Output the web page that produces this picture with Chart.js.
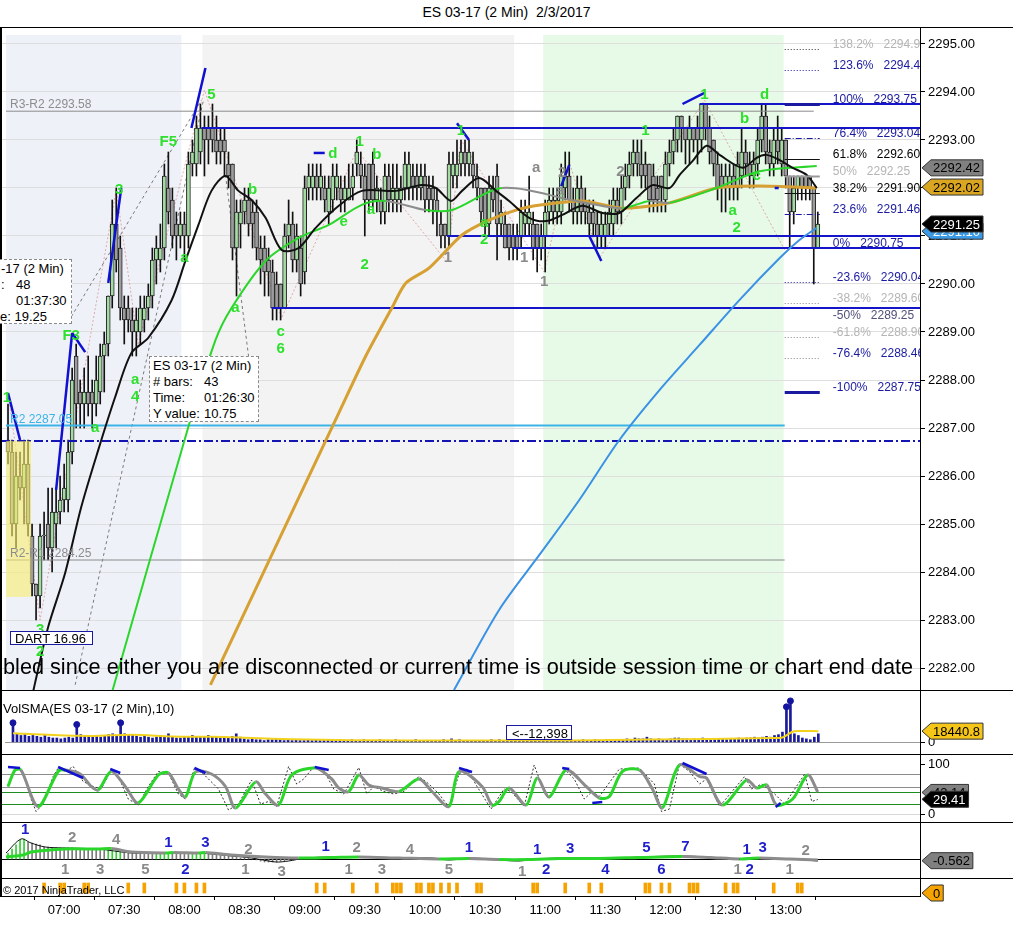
<!DOCTYPE html>
<html>
<head>
<meta charset="utf-8">
<title>ES 03-17 (2 Min) 2/3/2017</title>
<script src="https://cdn.jsdelivr.net/npm/chart.js@4.4.1/dist/chart.umd.min.js"></script>
<style>
  body { margin:0; width:1013px; height:952px; position:relative; overflow:hidden; background:#fff;
         font-family: Arial, "Liberation Sans", sans-serif; }
  canvas { position:absolute; left:0; }
  .ln { position:absolute; background:#000; }
  .txt { position:absolute; white-space:pre; color:#000; }
  .box { position:absolute; background:#fff; border:1px dashed #8a8a8a; font-size:13px; }
</style>
</head>
<body>
<div class="txt" style="left:0;width:1013px;text-align:center;top:4px;font-size:14px;">ES 03-17 (2 Min)  2/3/2017</div>

<canvas id="cMain" width="1013" height="662" style="top:28px"></canvas>
<canvas id="cVol" width="1013" height="64" style="top:690px"></canvas>
<canvas id="cStoch" width="1013" height="68" style="top:754px"></canvas>
<canvas id="cMacd" width="1013" height="56" style="top:822px"></canvas>
<canvas id="cBottom" width="1013" height="74" style="top:878px"></canvas>

<div class="ln" style="left:0;top:27px;width:1013px;height:1px"></div>
<div class="ln" style="left:0;top:27px;width:2px;height:869px"></div>
<div class="ln" style="left:0;top:690px;width:1013px;height:1px"></div>
<div class="ln" style="left:0;top:754px;width:1013px;height:1px"></div>
<div class="ln" style="left:0;top:822px;width:1013px;height:1px"></div>
<div class="ln" style="left:0;top:878px;width:1013px;height:1px"></div>
<div class="ln" style="left:920px;top:27px;width:1px;height:869px"></div>

<div class="box" style="left:-1px;top:259px;width:71px;height:63px;">
  <div class="txt" style="left:1px;top:1px">-17 (2 Min)</div>
  <div class="txt" style="left:1px;top:17px">:</div><div class="txt" style="left:16px;top:17px">48</div>
  <div class="txt" style="left:16px;top:33px">01:37:30</div>
  <div class="txt" style="left:0px;top:49px">e: 19.25</div>
</div>
<div class="box" style="left:149px;top:356px;width:108px;height:64px;">
  <div class="txt" style="left:3px;top:1px">ES 03-17 (2 Min)</div>
  <div class="txt" style="left:3px;top:17px"># bars:</div><div class="txt" style="left:54px;top:17px">43</div>
  <div class="txt" style="left:3px;top:33px">Time:</div><div class="txt" style="left:54px;top:33px">01:26:30</div>
  <div class="txt" style="left:3px;top:49px">Y value:</div><div class="txt" style="left:54px;top:49px">10.75</div>
</div>
<div class="txt" style="left:10px;top:631px;height:14px;border:1px solid #1a1aa0;background:#fff;font-size:13px;line-height:14px;padding-left:4px;box-sizing:border-box;width:83px;">DART 16.96</div>
<div class="txt" style="left:3px;top:654px;font-size:21.7px;">bled since either you are disconnected or current time is outside session time or chart end date</div>

<div class="txt" style="left:3px;top:701px;font-size:13px;">VolSMA(ES 03-17 (2 Min),10)</div>
<div class="txt" style="left:506px;top:725px;width:66px;height:15px;border:1px solid #1a1aa0;background:#fff;font-size:13px;line-height:15px;box-sizing:border-box;padding-left:5px;">&lt;--12,398</div>
<div class="txt" style="left:3px;top:884px;font-size:11px;">© 2017 NinjaTrader, LLC</div>

<script>
// ---- bars: ES 03-17, 2 min, first bar 06:32 ----
const opens = [
  2286.75,2286.5,2285.0,2286.0,2285.75,2286.25,2284.75,2283.75,2283.5,2284.75,
  2285.0,2284.5,2285.0,2285.25,2285.5,2285.5,2286.5,2288.5,2287.75,2287.5,
  2287.75,2287.75,2287.5,2287.75,2288.5,2288.75,2289.75,2291.25,2290.75,2289.5,
  2289.5,2289.25,2289.0,2289.0,2289.25,2289.5,2289.75,2290.5,2290.5,2290.75,
  2292.0,2291.75,2291.25,2291.0,2291.25,2291.0,2292.5,2292.5,2292.75,2293.25,
  2293.25,2293.25,2293.0,2293.0,2293.0,2292.5,2292.5,2290.75,2291.25,2291.5,
  2291.75,2291.5,2291.5,2290.75,2290.75,2290.5,2290.25,2290.0,2290.0,2289.5,
  2291.0,2291.25,2290.5,2290.75,2290.25,2292.0,2292.0,2292.25,2292.0,2292.0,
  2291.5,2291.75,2292.0,2292.0,2291.75,2291.75,2292.0,2292.5,2292.5,2292.25,
  2292.5,2292.5,2291.75,2291.75,2291.5,2292.25,2291.75,2291.75,2291.75,2292.0,
  2292.0,2292.25,2292.25,2292.0,2292.25,2292.0,2292.0,2291.75,2291.25,2291.25,
  2291.0,2292.25,2292.25,2292.5,2292.75,2292.5,2292.5,2292.25,2292.0,2292.0,
  2291.25,2292.0,2292.25,2291.25,2291.25,2291.25,2291.0,2291.0,2291.0,2291.25,
  2291.25,2291.25,2291.25,2290.75,2291.0,2291.5,2291.75,2291.5,2291.5,2292.0,
  2292.25,2291.75,2291.5,2292.0,2291.75,2291.5,2291.5,2291.25,2291.0,2291.0,
  2291.25,2291.25,2291.75,2291.5,2292.0,2292.25,2292.5,2292.75,2292.5,2292.5,
  2292.5,2292.25,2292.0,2292.25,2291.75,2292.5,2292.75,2293.0,2293.5,2293.25,
  2293.0,2293.25,2293.25,2293.0,2293.75,2293.25,2293.0,2292.5,2292.25,2292.0,
  2292.0,2292.25,2292.0,2292.25,2292.75,2292.5,2292.25,2292.5,2293.0,2293.5,
  2292.75,2292.5,2293.0,2292.5,2293.0,2292.25,2291.5,2292.0,2292.25,2292.25,
  2292.25,2292.0,2290.75];
const highs = [
  2287.5,2286.75,2286.5,2286.5,2286.75,2286.75,2285.0,2283.75,2285.0,2285.25,
  2285.75,2285.75,2285.75,2286.0,2286.25,2286.75,2288.25,2288.75,2288.0,2288.25,
  2288.5,2288.0,2288.5,2288.75,2289.0,2289.75,2291.75,2292.0,2291.0,2289.75,
  2289.75,2289.5,2289.5,2289.75,2289.75,2290.0,2290.75,2291.0,2291.25,2292.5,
  2292.75,2292.0,2291.5,2291.5,2291.5,2292.75,2293.0,2293.5,2293.75,2293.5,
  2293.5,2293.75,2293.5,2293.25,2293.25,2292.75,2292.5,2291.75,2291.75,2292.0,
  2292.0,2291.75,2291.75,2291.0,2291.0,2290.75,2290.5,2290.25,2290.0,2291.25,
  2291.75,2291.5,2291.25,2291.0,2292.25,2292.5,2292.5,2292.5,2292.5,2292.25,
  2292.25,2292.5,2292.5,2292.25,2292.25,2292.5,2292.5,2293.0,2292.75,2292.5,
  2292.5,2292.75,2292.25,2292.0,2292.5,2292.5,2292.5,2292.5,2292.25,2292.75,
  2292.75,2292.5,2292.5,2292.5,2292.5,2292.25,2292.25,2292.0,2291.5,2291.25,
  2292.75,2292.75,2293.0,2293.0,2293.0,2293.0,2292.75,2292.5,2292.0,2292.0,
  2292.25,2292.25,2292.5,2291.75,2291.5,2291.25,2291.25,2291.25,2291.75,2291.75,
  2292.25,2291.5,2291.25,2291.25,2291.75,2292.0,2292.0,2292.0,2292.5,2292.75,
  2292.75,2292.0,2292.25,2292.25,2292.0,2291.75,2291.75,2291.5,2291.5,2291.5,
  2291.75,2292.0,2292.0,2292.25,2292.5,2292.75,2293.0,2293.0,2293.0,2292.75,
  2292.5,2292.5,2292.25,2292.25,2292.75,2293.0,2293.25,2293.5,2293.5,2293.25,
  2293.5,2293.25,2293.5,2293.75,2293.75,2293.5,2293.0,2292.75,2292.5,2292.5,
  2292.5,2292.5,2292.75,2293.25,2293.0,2292.75,2292.75,2293.25,2293.75,2293.75,
  2293.0,2293.25,2293.5,2293.25,2293.0,2292.25,2292.25,2292.25,2292.25,2292.25,
  2292.25,2292.0,2291.5];
const lows = [
  2286.25,2284.75,2284.5,2285.5,2285.0,2284.75,2283.5,2283.0,2283.25,2284.25,
  2284.25,2284.0,2284.5,2285.0,2285.25,2285.25,2286.25,2287.0,2287.0,2287.0,
  2287.25,2287.0,2287.25,2287.5,2287.75,2288.5,2289.5,2290.25,2289.25,2288.75,
  2289.0,2288.5,2288.5,2288.75,2289.0,2289.25,2289.5,2290.0,2290.25,2290.5,
  2291.25,2290.75,2290.5,2290.75,2290.5,2290.75,2292.25,2292.25,2292.5,2292.25,
  2292.5,2292.75,2292.5,2292.5,2292.25,2292.0,2290.5,2289.75,2290.75,2291.25,
  2291.0,2290.75,2290.5,2290.0,2289.75,2289.75,2289.25,2289.25,2289.25,2289.5,
  2290.75,2290.25,2290.25,2289.75,2290.0,2291.75,2291.75,2291.75,2291.75,2291.5,
  2291.25,2291.5,2291.75,2291.5,2291.5,2291.75,2291.75,2292.25,2292.0,2291.0,
  2291.5,2291.5,2291.5,2291.25,2291.25,2291.5,2291.5,2291.5,2291.5,2291.75,
  2291.75,2291.75,2291.75,2291.75,2291.5,2291.5,2291.25,2291.0,2290.75,2290.75,
  2290.75,2292.0,2292.0,2292.25,2292.25,2292.25,2292.0,2291.75,2291.25,2291.0,
  2291.0,2291.5,2290.5,2291.0,2290.75,2290.5,2290.5,2290.5,2290.75,2291.0,
  2291.0,2290.5,2290.25,2290.5,2290.25,2291.25,2291.25,2291.25,2291.25,2291.75,
  2291.5,2291.25,2291.25,2291.25,2291.25,2291.0,2291.0,2290.75,2290.75,2290.75,
  2291.0,2291.0,2291.25,2291.25,2291.75,2292.0,2292.25,2292.25,2292.0,2292.0,
  2291.5,2291.5,2291.5,2291.5,2291.5,2292.25,2292.5,2292.75,2292.75,2292.5,
  2292.5,2292.75,2292.5,2292.75,2293.0,2292.5,2292.25,2291.75,2291.5,2291.5,
  2291.75,2291.75,2291.75,2292.0,2292.25,2292.0,2292.0,2292.25,2292.75,2292.5,
  2292.25,2292.25,2292.5,2292.25,2292.0,2290.75,2291.25,2291.75,2291.75,2291.75,
  2291.75,2290.0,2290.75];
const closes = [
  2286.5,2285.0,2286.0,2285.75,2286.25,2285.0,2283.75,2283.5,2284.75,2284.75,
  2284.5,2285.25,2285.25,2285.5,2285.75,2286.5,2288.0,2287.5,2287.5,2287.75,
  2287.5,2287.5,2288.0,2288.5,2288.75,2289.75,2291.25,2290.5,2289.5,2289.25,
  2289.25,2289.0,2289.25,2289.5,2289.5,2289.75,2290.5,2290.75,2290.75,2292.25,
  2291.5,2291.0,2291.0,2291.25,2291.0,2292.5,2292.75,2293.25,2293.25,2293.0,
  2293.0,2293.0,2292.75,2292.75,2292.75,2292.25,2290.75,2291.5,2291.5,2291.75,
  2291.25,2291.25,2290.75,2290.5,2290.25,2290.25,2289.5,2289.5,2289.5,2291.0,
  2291.25,2290.5,2291.0,2290.0,2292.0,2292.25,2292.25,2292.0,2292.25,2291.75,
  2292.0,2292.25,2292.25,2291.75,2292.0,2292.0,2292.25,2292.75,2292.25,2291.75,
  2291.75,2291.75,2292.0,2291.5,2292.25,2291.75,2292.0,2292.0,2292.0,2292.5,
  2292.5,2292.0,2292.0,2292.25,2291.75,2291.75,2291.75,2291.5,2291.0,2291.0,
  2292.5,2292.5,2292.5,2292.75,2292.5,2292.75,2292.25,2292.0,2291.5,2291.25,
  2292.0,2291.75,2291.25,2291.5,2290.75,2290.75,2290.75,2290.75,2291.5,2291.5,
  2291.5,2290.75,2290.75,2291.0,2291.5,2291.75,2291.5,2291.75,2292.25,2292.25,
  2291.75,2291.5,2292.0,2291.5,2291.5,2291.25,2291.25,2291.0,2291.25,2291.25,
  2291.5,2291.75,2291.5,2292.0,2292.25,2292.5,2292.75,2292.5,2292.25,2292.25,
  2291.75,2291.75,2291.75,2292.0,2292.5,2292.75,2293.0,2293.5,2293.25,2293.0,
  2293.25,2293.0,2293.0,2293.75,2293.25,2292.75,2292.5,2292.0,2292.0,2292.25,
  2292.25,2292.0,2292.5,2292.75,2292.5,2292.25,2292.5,2293.0,2293.5,2292.75,
  2292.5,2293.0,2292.75,2293.0,2292.25,2291.5,2292.0,2292.25,2292.0,2292.0,
  2292.0,2290.75,2291.25];

// time axis (bar index of each label)
const timeTickIdx = [14, 29, 44, 59, 74, 89, 104, 119, 134, 149, 164, 179, 194];
const timeTickLabels = ['07:00','07:30','08:00','08:30','09:00','09:30','10:00','10:30','11:00','11:30','12:00','12:30','13:00'];
const priceTicks = [2282,2283,2284,2285,2286,2287,2288,2289,2290,2291,2292,2293,2294,2295];

// moving averages (bar index, price)
const emaFastIdx = [5.75,6.75,10,14.25,18.25,22.5,26.75,30.75,35,40.75,44.25,47.5,50.75,54.25,57.5,60.75,64.25,68.25,72.5,76.75,82.5,88.25,96.75,103.25,106.75,110.5,113.25,117.5,121.75,125,130,134.25,138.25,143.25,148.25,152.5,156.75,160.75,165,167.5,170.75,174.25,177.5,183.25,186.75,189.25,192.5,195.75,199.25,201.75];
const emaFastVal = [2281.3,2281.69,2282.85,2283.98,2285.35,2286.54,2287.65,2288.56,2288.88,2289.65,2290.48,2291.23,2291.94,2292.25,2291.94,2291.75,2291.38,2290.71,2290.75,2291.17,2291.63,2291.94,2291.94,2292.06,2292.0,2291.73,2291.94,2292.21,2291.94,2291.73,2291.38,2291.31,2291.44,2291.63,2291.48,2291.48,2291.79,2292.06,2292.0,2292.27,2292.56,2292.88,2292.69,2292.42,2292.63,2292.69,2292.58,2292.42,2292.27,2292.0];
const emaMidIdx = [25.75,45.5,51.75,55.75,64.25,72.5,80,88.25,94.25,104.25,110.75,123.25,141.75,153.25,160,165,176.75,187.5,201.75];
const emaMidVal = [2281.44,2287.17,2288.83,2289.5,2290.48,2290.96,2291.23,2291.65,2291.73,2291.54,2291.54,2292.0,2291.73,2291.58,2291.73,2291.69,2292.0,2292.35,2292.46];
const emaSlowIdx = [50.5,82.5,89.25,95.75,99.25,105,113.25,120,126.75,133.25,143.25,153.25,165,176.75,187.5,201.75];
const emaSlowVal = [2281.65,2287.31,2288.5,2289.5,2290.02,2290.33,2291.02,2291.33,2291.54,2291.65,2291.73,2291.58,2291.69,2292.0,2292.04,2292.0];
const emaLongIdx = [111.25,122.5,132.5,142.5,152.5,162.5,172.5,182.5,192.5,197.5,201.75];
const emaLongVal = [2281.54,2283.21,2284.35,2285.5,2286.75,2287.79,2288.73,2289.67,2290.54,2290.92,2291.17];

// horizontal levels
const hLinePrice = [2293.25, 2293.75, 2291.0, 2290.75, 2289.5, 2293.6, 2287.05, 2286.73, 2284.25];
const hLineFrom  = [48.25, 172.5, 109.5, 125.75, 65.75, -0.5, -0.5, -2, -0.5];
const hLineTo    = [227.5, 227.5, 227.5, 227.5, 227.5, 201, 193.75, 227.5, 193.75];
const hLineColor = ['#1414c8','#1414c8','#1414c8','#1414c8','#1414c8','#8c8c8c','#3cb4e6','#1414b4','#8c8c8c'];
const hLineWidth = [2, 2, 2, 2, 2, 1, 2, 2, 1];
const hLineDash  = [[], [], [], [], [], [], [], [9, 3, 2, 3], []];
const rLabelText  = ['R3-R2 2293.58', 'R2 2287.05', 'R2-R1 2284.25'];
const rLabelPrice = [2293.6, 2287.05, 2284.25];
const rLabelColor = ['#8c8c8c', '#3cb4e6', '#8c8c8c'];

// fibonacci levels at the right edge
const fibPct   = ['138.2%','123.6%','100%','76.4%','61.8%','50%','38.2%','23.6%','0%','-23.6%','-38.2%','-50%','-61.8%','-76.4%','-100%'];
const fibPrice = [2294.90,2294.46,2293.75,2293.04,2292.60,2292.25,2291.90,2291.46,2290.75,2290.04,2289.60,2289.25,2288.90,2288.46,2287.75];
const fibColor = ['#b4b4b4','#1a1aa0','#1a1aa0','#1a1aa0','#000000','#b4b4b4','#000000','#1a1aa0','#1a1aa0','#1a1aa0','#b4b4b4','#50507a','#b4b4b4','#1a1aa0','#1a1aa0'];
const fibLineColor = ['#333','#1a1aa0','#1a1aa0','#1a1aa0','#111','#999','#111','#1a1aa0',null,'#1a1aa0','#888',null,'#888','#888','#1a1aa0'];
const fibLineWidth = [1, 1, 3, 1, 1, 2, 1, 1, 0, 1, 1, 0, 1, 1, 3];
const fibLineDash  = [[1,2],[1,2],[],[6,2,1,2],[],[],[],[6,2,1,2],[],[1,2],[1,2],[],[1,2],[1,2],[]];

// drawn swing lines
const slants = [[0,2287.73,3,2286.75],[12,2285.71,16,2288.98],[16,2288.98,19.25,2288.58],[25,2290.02,28.25,2292.0],
  [45.75,2293.25,49.25,2294.5],[76.25,2292.73,79,2292.73],[112,2293.35,115,2293.0],[138,2292.04,140,2292.48],
  [145,2291.0,148,2290.48],[168.25,2293.75,173.75,2293.98],[191.25,2292.0,192.25,2292.0]];
const zzIdx = [0,8,27,32.5,49,68.25,87,109.5,113,133.75,140,147.5,173.75,193.75];
const zzVal = [2287.73,2283.0,2291.96,2288.73,2294.04,2289.29,2292.79,2290.46,2293.0,2290.25,2292.54,2290.54,2293.83,2290.71];
const dashLines = [[15,2289.21,48.25,2293.83],[16.75,2281.65,48.75,2293.83],[54.25,2292.27,60,2288.5]];

// session shading and the yellow range box
const sessionStart = [-0.5, 48.5, 133.5];
const sessionEnd   = [43.25, 126.25, 193.5];
const sessionColor = ['#eff1f9', '#f3f3f3', '#e7f9e7'];
const rangeBox = [-0.5, 5.75, 2283.48, 2286.73];

// swing labels on the price panel
const lblIdx = [-0.25,15.75,21.75,27.75,31.75,31.75,44,40,50.75,61,56.75,68,68,81,87.75,92,83.75,90.5,89,118.75,118.75,113,159,173.75,188.75,183.75,186.75,180.75,181.75,8,8,109.75,128.75,133.75,131.75,138.25,137.75,152.75];
const lblVal = [2287.63,2288.92,2287.0,2291.96,2288.0,2287.65,2290.54,2292.96,2293.94,2291.96,2289.5,2289.0,2288.65,2292.71,2292.96,2292.69,2291.29,2291.54,2290.4,2291.27,2290.92,2293.19,2293.19,2293.94,2293.94,2293.44,2292.25,2291.52,2291.17,2282.79,2282.33,2290.54,2290.54,2290.04,2292.42,2292.31,2291.94,2292.33];
const lblText = ['1','F3','a','3','a','4','a','F5','5','b','a','c','6','d','1','b','e','a','2','a','2','1','1','1','d','b','c','a','2','3','2','1','1','1','a','2','a','2'];
const lblGray = 31; // labels from this position on are gray

// price tags on the axis
const mainTagVal = [2291.10, 2292.42, 2292.02, 2291.25];
const mainTagBg  = ['#3c9be6', '#808080', '#daa520', '#000000'];
const mainTagFg  = ['#ffffff', '#000000', '#000000', '#ffffff'];

// volume
const volume = [
  32200,14000,11200,12600,9800,12600,9800,8400,11200,8400,
  7000,7000,5600,7000,8400,7000,29400,12600,11200,9800,
  9800,11200,8400,11200,12600,14000,11200,32200,14000,12600,
  11200,9800,8400,9800,8400,7000,8400,11200,9800,14000,
  9800,7000,7000,8400,9800,11200,8400,9800,8400,11200,
  9800,8400,7000,8400,7000,9800,14000,8400,5600,4200,
  5600,4200,4200,2800,4200,4200,5600,4200,2800,4200,
  2800,4200,2800,2800,4200,2800,4200,2800,2800,4200,
  2800,2800,4200,2800,2800,4200,2800,2800,4200,2800,
  2800,2800,4200,2800,2800,2800,4200,2800,2800,2800,
  2800,4200,2800,2800,2800,2800,2800,2800,4200,2800,
  5600,2800,4200,2800,2800,2800,2800,2800,2800,2800,
  4200,2800,4200,2800,2800,2800,2800,2800,2800,2800,
  2800,2800,2800,2800,2800,4200,2800,2800,4200,2800,
  4200,2800,2800,4200,2800,2800,4200,2800,2800,4200,
  2800,2800,4200,4200,5600,4200,7000,5600,5600,8400,
  5600,4200,5600,4200,4200,5600,7000,7000,5600,5600,
  4200,5600,4200,7000,5600,5600,4200,5600,5600,4200,
  5600,5600,7000,5600,7000,7000,8400,7000,8400,9800,
  8400,11200,12600,16800,58800,68600,14000,11200,7000,5600,
  4200,8400,14000];
const volSpikeIdx = [0, 16, 27, 194, 195];
const volSmaIdx = [0,10,20,30,40,50,60,70,85,100,120,140,160,175,190,193,195.5,197,202];
const volSmaVal = [15000,12000,10500,12500,9500,9000,7000,5000,3500,3000,2800,3000,4500,5500,7000,8000,17500,18800,18440];

// stochastics
const stochIdx = [0,1.75,3.25,7.5,12.5,14.25,18,20.75,22.5,25.75,29.25,32.5,37.5,40,42.5,44.25,46.75,50.75,54.25,56.75,61.75,64.25,67.5,70.75,76.75,80.75,82.5,85,87.5,90,93.25,97.5,102.5,105.75,110,112.5,118.25,120.75,122.5,125,129.25,132,135,139.25,144.25,147.5,150,153.25,157.5,160.75,163.25,167.5,172.5,174.25,178.25,184.25,186.75,189.25,191.75,195.75,199.5,202];
const stochVal = [55,88,88,15,85,88,80,55,48,85,55,22,78,82,50,34,84,80,55,12,64,40,18,78,92,70,52,45,78,58,52,45,70,45,15,85,55,18,25,52,18,72,34,88,55,32,35,85,88,50,12,98,75,72,18,68,52,58,18,30,78,44];
const rawIdx = [0,1.75,3.75,5.75,7,8.75,11.25,12.5,14.25,16.25,18.75,21.25,23.25,25.75,27.5,30,32.5,35,37.5,40,42.5,44.25,46.5,48.75,52.5,55,57.5,60.75,63,65,67,70,72,73.75,76.25,78.75,81.25,83.75,87.5,89.5,91.25,93.75,96.25,98.75,102.5,105,107.5,110,112.5,114.5,117,120.5,123.75,125.5,128.75,131.25,133,135,138.75,141.25,143.75,145.75,147.5,152.5,157.5,161.25,163,165,167.5,170,172.5,174.25,177.5,183.75,185.5,188,191.25,193.75,198.75,200.5,202];
const rawVal = [55,90,85,30,5,20,75,92,85,95,65,55,50,88,75,30,18,55,85,82,40,30,92,80,50,8,20,68,20,25,15,95,60,70,94,88,50,40,93,40,55,45,40,45,75,60,40,14,80,90,55,10,50,45,15,98,60,30,90,70,30,45,35,90,92,60,5,10,100,85,60,70,15,75,50,60,40,20,80,25,29];
const stochLevels = [80, 55, 45, 20, 0];
const stochLevelColor = ['#8c8c8c', '#8c8c8c', '#1e8c1e', '#1e8c1e', '#d8d8d8'];
const stochDivs = [[0,94,3,92],[12.5,94,18.75,72],[25.5,90,28,82],[46.5,92,49.25,82],[76.5,94,80,88],[112.5,92,115.75,84],[138.25,92,140,90],[145.75,22,148.25,24],[168.25,102,174.25,80],[191.5,14,192.75,22]];

// momentum panel
const histVal = [2.0,3.3,4.7,6.3,6.7,5.7,5.3,5.0,4.7,4.0,4.0,3.8,3.8,3.7,3.7,3.7,3.7,3.5,3.5,3.5,3.3,3.3,3.3,3.3,3.0,3.0,3.0,3.0,2.7,2.3,2.0,2.0,2.0,2.0,2.0,2.0,2.0,2.0,2.0,2.0,2.0,2.0,2.0,2.0,2.0,2.0,2.0,2.0,2.0,1.7,1.7,1.3,1.3,1.0,1.0,1.0,0.7,0.7,0.3,0.3,0.3,0,-0.3,-0.7,-1.0,-1.0,-1.0,-1.0,-0.7,-0.7,-0.3];
const histGreenRanges = [[0, 4], [25, 28], [37, 40], [46, 49]];
const macdIdx = [-0.5,3.25,5.75,9.25,14.25,22.5,30.75,39.25,47.5,55.75,60.75,66.75,70,74.25,80.75,89.25,97.5,105.75,110,115.75,122.5,127.5,131.75,139.25,147.5,157.5,168.25,174.25,180.75,185.75,195,202];
const macdVal = [2.0,6.67,5.33,4.0,3.67,3.33,2.0,2.0,2.0,1.0,0.33,-1.0,-0.67,0.33,0.67,0.67,0.33,0.33,-0.33,0.33,-0.33,-0.67,0,0.33,0,0.67,1.0,0.67,0,0.33,0,-0.67];
const sigIdx = [-0.5,3.75,5.75,14.25,22.5,25.75,30.75,39.25,41.25,47.5,49.25,55.75,64.25,72.5,80.75,87.5,97.5,107.5,115,122.5,130,137.5,147.5,157.5,168.25,175,182.5,187.5,195,202];
const sigVal = [0.67,1.33,2.33,3.33,3.33,3.5,2.33,2.0,2.17,2.0,2.17,1.33,0.67,0.33,0.5,0.67,0.33,0,0.17,-0.17,-0.17,0.17,0.17,0.5,0.83,0.5,0,0.33,0,-0.33];
const mLblIdx = [4.25,16,27,40,49.25,60,79.25,87,100.25,115,132,140.25,159.25,169,184.25,188.25,199,
  14.25,23,34.25,44.25,59.25,68.25,85,93.25,110,128.25,134.25,149,163,182,185,195];
const mLblVal = [9.67,7,6.33,5.33,5.33,3,4,3.67,3,3.67,3,3.33,3.67,4,3,3.67,2.67,
  -3.67,-3.67,-3.67,-3.67,-3.67,-4.33,-3.67,-3.67,-3.67,-4.33,-3.67,-3.67,-3.67,-3.67,-3.67,-3.67];
const mLblText = ['1','2','4','1','3','2','1','2','4','1','1','3','5','7','1','3','2',
  '1','3','5','2','1','3','1','3','5','1','2','4','6','1','2','1'];
const mLblBlue = [1,0,0,1,1,0,1,0,0,1,1,1,1,1,1,1,0, 0,0,0,1,0,0,0,0,0,0,1,1,1,0,1,0];

// order-flow markers row
const markIdx = [9,13,14,19,20,30,34,42,44,47,49,77,79,86,92,96,97,98,102,103,105,106,108,110,112,117,118,131,132,139,145,148,159,160,163,165,170,171,172,179,181,182,191,197,198];

const FONT = 'Arial, "Liberation Sans", sans-serif';
const X_MIN = -2, X_MAX = 227.5, AXIS_W = 93;
const GREEN = '#2ee02e', GRAY_LBL = '#8a8a8a', BLUE_LBL = '#1e1ecc';
Chart.defaults.font.family = FONT;

function xAxis(show) {
  return {
    type: 'linear', min: X_MIN, max: X_MAX, offset: false, display: show,
    afterFit: s => { if (show) s.height = 56; s.paddingLeft = 0; s.paddingRight = 0; },
    afterBuildTicks: s => { s.ticks = timeTickIdx.map(v => ({ value: v })); },
    border: { display: true, color: '#000' },
    grid: { drawOnChartArea: false, tickColor: '#000', tickLength: 4 },
    ticks: { autoSkip: false, maxRotation: 0, color: '#000', font: { size: 13 }, padding: 3,
             callback: v => timeTickLabels[timeTickIdx.indexOf(v)] }
  };
}
function yAxis(min, max, tickVals, fmt, gridColor) {
  return {
    position: 'right', min: min, max: max,
    afterFit: s => { s.width = AXIS_W; s.paddingTop = 0; s.paddingBottom = 0; },
    afterBuildTicks: s => { s.ticks = tickVals.map(v => ({ value: v })); },
    border: { display: true, color: '#000', width: 1 },
    grid: { drawOnChartArea: !!gridColor, color: gridColor || '#000', tickColor: '#000', tickLength: 5 },
    ticks: { display: tickVals.length > 0, color: '#000', font: { size: 13 }, padding: 3, callback: v => fmt(v) }
  };
}
function baseOpts(yCfg, showX) {
  return {
    responsive: false, animation: false, events: [],
    layout: { padding: 0 },
    plugins: { legend: { display: false }, tooltip: { enabled: false } },
    elements: { point: { radius: 0 } },
    scales: { x: xAxis(showX), y: yCfg }
  };
}
function lineDs(idx, val, color, width, extra) {
  return Object.assign({ type: 'line', data: idx.map((x, k) => ({ x: x, y: val[k] })),
    borderColor: color, borderWidth: width, pointRadius: 0, fill: false, tension: 0 }, extra || {});
}
const slopeColor = (up, down) => ({ borderColor: c => c.p1.parsed.y < c.p0.parsed.y ? down : up });

function drawTag(ctx, y, text, bg, fg) {
  ctx.font = '13px ' + FONT;
  const w = ctx.measureText(text).width + 5;
  const x0 = 922;
  ctx.beginPath();
  ctx.moveTo(x0, y);
  ctx.lineTo(x0 + 9, y - 8);
  ctx.lineTo(x0 + 9 + w, y - 8);
  ctx.lineTo(x0 + 9 + w, y + 8);
  ctx.lineTo(x0 + 9, y + 8);
  ctx.closePath();
  ctx.fillStyle = bg; ctx.fill();
  ctx.strokeStyle = '#333'; ctx.lineWidth = 1; ctx.stroke();
  ctx.fillStyle = fg; ctx.textAlign = 'left'; ctx.textBaseline = 'middle';
  ctx.fillText(text, x0 + 11, y + 1);
}
function tagPlugin(id, vals, texts, bgs, fgs) {
  return { id: id, afterDraw(chart) {
    const ctx = chart.ctx; ctx.save();
    vals.forEach((v, k) => drawTag(ctx, chart.scales.y.getPixelForValue(v), texts[k], bgs[k], fgs[k]));
    ctx.restore();
  } };
}
function clipArea(chart) {
  const a = chart.chartArea;
  chart.ctx.beginPath(); chart.ctx.rect(a.left, a.top, a.right - a.left, a.bottom - a.top); chart.ctx.clip();
}

// ---------- price panel ----------
const mainDecor = {
  id: 'mainDecor',
  beforeDraw(chart) {
    const { ctx, chartArea: a, scales: { x } } = chart;
    ctx.save();
    sessionStart.forEach((s, k) => {
      const x0 = x.getPixelForValue(s), x1 = x.getPixelForValue(sessionEnd[k]);
      ctx.fillStyle = sessionColor[k];
      ctx.fillRect(x0, a.top + 7, x1 - x0, a.bottom - a.top - 7);
    });
    ctx.restore();
  },
  afterDatasetsDraw(chart) {
    const { ctx, scales: { x, y } } = chart;
    ctx.save(); clipArea(chart);
    // yellow range box
    const bx0 = x.getPixelForValue(rangeBox[0]), bx1 = x.getPixelForValue(rangeBox[1]);
    const by0 = y.getPixelForValue(rangeBox[3]), by1 = y.getPixelForValue(rangeBox[2]);
    ctx.fillStyle = 'rgba(248,238,110,0.6)';
    ctx.fillRect(bx0, by0, bx1 - bx0, by1 - by0);
    // fib segments + texts
    const fx0 = x.getPixelForValue(193.75), fx1 = x.getPixelForValue(202.5);
    fibPrice.forEach((p, k) => {
      const py = Math.round(y.getPixelForValue(p)) + 0.5;
      if (fibLineColor[k]) {
        ctx.strokeStyle = fibLineColor[k]; ctx.lineWidth = fibLineWidth[k]; ctx.setLineDash(fibLineDash[k]);
        ctx.beginPath(); ctx.moveTo(fx0, py); ctx.lineTo(fx1, py); ctx.stroke();
      }
      ctx.setLineDash([]);
      ctx.font = '12px ' + FONT; ctx.fillStyle = fibColor[k];
      ctx.textAlign = 'left'; ctx.textBaseline = 'alphabetic';
      ctx.fillText(fibPct[k] + '   ' + p.toFixed(2), x.getPixelForValue(205.75), py - 2);
    });
    // pivot labels
    ctx.font = '12px ' + FONT;
    rLabelText.forEach((t, k) => {
      ctx.fillStyle = rLabelColor[k];
      ctx.fillText(t, x.getPixelForValue(0.5), y.getPixelForValue(rLabelPrice[k]) - 3);
    });
    // swing labels
    ctx.font = 'bold 15px ' + FONT; ctx.textAlign = 'center'; ctx.textBaseline = 'middle';
    lblText.forEach((t, k) => {
      ctx.fillStyle = k < lblGray ? GREEN : GRAY_LBL;
      ctx.fillText(t, x.getPixelForValue(lblIdx[k]), y.getPixelForValue(lblVal[k]));
    });
    ctx.restore();
  }
};

const mainDatasets = [];
slants.forEach(s => mainDatasets.push(lineDs([s[0], s[2]], [s[1], s[3]], '#1010d0', 2.5, { order: 1 })));
mainDatasets.push(lineDs(emaFastIdx, emaFastVal, '#111111', 2, { tension: 0.3, order: 2 }));
mainDatasets.push(lineDs(emaMidIdx, emaMidVal, GREEN, 2, { tension: 0.3, order: 2, segment: slopeColor('#2ad62a', '#8c8c8c') }));
mainDatasets.push(lineDs(emaSlowIdx, emaSlowVal, '#d6a032', 3, { tension: 0.25, order: 3 }));
mainDatasets.push(lineDs(emaLongIdx, emaLongVal, '#3a92e4', 2, { tension: 0.3, order: 3 }));
hLinePrice.forEach((p, k) => mainDatasets.push(lineDs([hLineFrom[k], hLineTo[k]], [p, p], hLineColor[k], hLineWidth[k], { borderDash: hLineDash[k], order: 4 })));
mainDatasets.push({ type: 'bar', grouped: false, order: 5,
  data: opens.map((o, i) => ({ x: i, y: [Math.min(o, closes[i]), Math.max(o, closes[i])] })),
  barThickness: 4, minBarLength: 1, borderWidth: 1, borderSkipped: false, borderColor: '#222',
  backgroundColor: opens.map((o, i) => closes[i] >= o ? '#a3dba3' : '#9c9c9c') });
mainDatasets.push({ type: 'bar', grouped: false, order: 6,
  data: opens.map((o, i) => ({ x: i, y: [lows[i], highs[i]] })),
  barThickness: 1, backgroundColor: '#111' });
mainDatasets.push(lineDs(zzIdx, zzVal, 'rgba(215,120,120,0.6)', 1, { borderDash: [2, 2], order: 7 }));
dashLines.forEach(s => mainDatasets.push(lineDs([s[0], s[2]], [s[1], s[3]], '#7a7a7a', 1, { borderDash: [3, 3], order: 7 })));

new Chart(document.getElementById('cMain'), {
  type: 'bar',
  data: { datasets: mainDatasets },
  options: baseOpts(yAxis(2281.5417, 2295.3333, priceTicks, v => v.toFixed(2), '#dedede'), false),
  plugins: [mainDecor, tagPlugin('mainTags', mainTagVal, mainTagVal.map(v => v.toFixed(2)), mainTagBg, mainTagFg)]
});

// ---------- volume panel ----------
const volDecor = { id: 'volDecor', beforeDatasetsDraw(chart) {
  const { ctx, chartArea: a, scales: { y } } = chart;
  const py = Math.round(y.getPixelForValue(0)) + 0.5;
  ctx.save(); ctx.strokeStyle = '#9a9a9a'; ctx.lineWidth = 1;
  ctx.beginPath(); ctx.moveTo(a.left, py); ctx.lineTo(a.right, py); ctx.stroke(); ctx.restore();
} };
new Chart(document.getElementById('cVol'), {
  type: 'bar',
  data: { datasets: [
    { type: 'scatter', order: 0, data: volSpikeIdx.map(i => ({ x: i, y: volume[i] })), pointRadius: 3, backgroundColor: '#1414a0', borderColor: '#1414a0', showLine: false },
    lineDs(volSmaIdx, volSmaVal, '#f2d21c', 2, { tension: 0.3, order: 1 }),
    { type: 'bar', grouped: false, order: 2, data: volume.map((v, i) => ({ x: i, y: v })), barThickness: 2, backgroundColor: '#1a1a9a' }
  ] },
  options: baseOpts(yAxis(-11200, 78400, [0], v => String(v)), false),
  plugins: [volDecor, tagPlugin('volTags', [18440.8], ['18440.8'], ['#f5c518'], ['#000'])]
});

// ---------- stochastics panel ----------
const stochDecor = { id: 'stochDecor', beforeDatasetsDraw(chart) {
  const { ctx, chartArea: a, scales: { y } } = chart;
  ctx.save(); ctx.lineWidth = 1;
  stochLevels.forEach((l, k) => {
    const py = Math.round(y.getPixelForValue(l)) + 0.5;
    ctx.strokeStyle = stochLevelColor[k];
    ctx.beginPath(); ctx.moveTo(a.left, py); ctx.lineTo(a.right, py); ctx.stroke();
  });
  ctx.restore();
} };
const stochDatasets = stochDivs.map(s => lineDs([s[0], s[2]], [s[1], s[3]], '#1010d0', 2.5, { order: 0 }));
stochDatasets.push(lineDs(stochIdx, stochVal, '#8c8c8c', 3, { tension: 0.3, order: 1, segment: slopeColor('#2ad62a', '#8c8c8c') }));
stochDatasets.push(lineDs(rawIdx, rawVal, '#333', 1, { borderDash: [2, 2], order: 2 }));
new Chart(document.getElementById('cStoch'), {
  type: 'line',
  data: { datasets: stochDatasets },
  options: baseOpts(yAxis(-16, 120, [0, 100], v => String(v)), false),
  plugins: [stochDecor, tagPlugin('stochTags', [43.14, 29.41], ['43.14', '29.41'], ['#808080', '#000'], ['#000', '#fff'])]
});

// ---------- momentum panel ----------
const macdDecor = {
  id: 'macdDecor',
  beforeDatasetsDraw(chart) {
    const { ctx, chartArea: a, scales: { y } } = chart;
    const py = Math.round(y.getPixelForValue(0)) + 0.5;
    ctx.save(); ctx.strokeStyle = '#000'; ctx.lineWidth = 1;
    ctx.beginPath(); ctx.moveTo(a.left, py); ctx.lineTo(a.right, py); ctx.stroke(); ctx.restore();
  },
  afterDatasetsDraw(chart) {
    const { ctx, scales: { x, y } } = chart;
    ctx.save(); clipArea(chart);
    ctx.font = 'bold 15px ' + FONT; ctx.textAlign = 'center'; ctx.textBaseline = 'middle';
    mLblText.forEach((t, k) => {
      ctx.fillStyle = mLblBlue[k] ? BLUE_LBL : GRAY_LBL;
      ctx.fillText(t, x.getPixelForValue(mLblIdx[k]), y.getPixelForValue(mLblVal[k]));
    });
    ctx.restore();
  }
};
const histInGreen = i => histGreenRanges.some(r => i >= r[0] && i <= r[1]);
new Chart(document.getElementById('cMacd'), {
  type: 'bar',
  data: { datasets: [
    lineDs(sigIdx, sigVal, '#8c8c8c', 3, { tension: 0.3, order: 0, segment: slopeColor('#2ad62a', '#8c8c8c') }),
    lineDs(macdIdx, macdVal, '#111', 1, { tension: 0.3, order: 1 }),
    { type: 'bar', grouped: false, order: 2, data: histVal.map((v, i) => ({ x: i, y: v })), barThickness: 1,
      backgroundColor: histVal.map((v, i) => histInGreen(i) ? '#33cc33' : '#7a7a7a') }
  ] },
  options: baseOpts(yAxis(-6.333, 12.333, [], v => String(v)), false),
  plugins: [macdDecor, tagPlugin('macdTags', [-0.562], ['-0.562'], ['#808080'], ['#000'])]
});

// ---------- markers row + time axis ----------
new Chart(document.getElementById('cBottom'), {
  type: 'bar',
  data: { datasets: [
    { type: 'bar', grouped: false, data: markIdx.map(i => ({ x: i, y: 1 })), barThickness: 3, backgroundColor: '#f5a300' }
  ] },
  options: baseOpts(yAxis(-0.3, 1.5, [], v => String(v)), true),
  plugins: [tagPlugin('botTags', [0], ['0'], ['#f5a300'], ['#000'])]
});
</script>
</body>
</html>
